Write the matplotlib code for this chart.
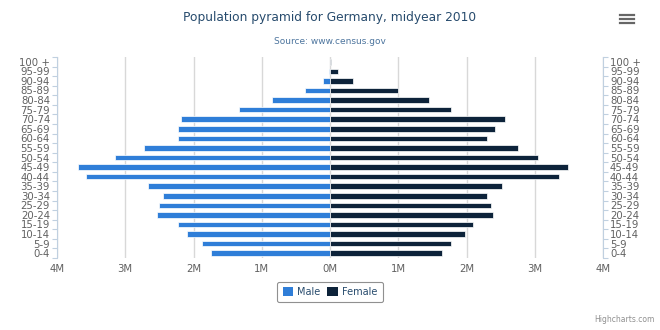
"""Population pyramid for Germany, midyear 2010 (Highcharts look-alike)."""

import matplotlib
matplotlib.use("Agg")
import matplotlib.pyplot as plt
from matplotlib.lines import Line2D
from matplotlib.patches import Patch
from matplotlib.ticker import FixedLocator, FuncFormatter

# age groups, bottom to top
categories = ['0-4', '5-9', '10-14', '15-19', '20-24', '25-29', '30-34',
              '35-39', '40-44', '45-49', '50-54', '55-59', '60-64', '65-69',
              '70-74', '75-79', '80-84', '85-89', '90-94', '95-99', '100 +']

# population in millions
male = [1.74, 1.88, 2.09, 2.23, 2.54, 2.51, 2.45, 2.66, 3.58, 3.69, 3.15,
        2.73, 2.23, 2.23, 2.18, 1.34, 0.85, 0.36, 0.10, 0.02, 0.004]
female = [1.64, 1.78, 1.98, 2.10, 2.39, 2.36, 2.30, 2.52, 3.36, 3.49, 3.05,
          2.75, 2.30, 2.42, 2.56, 1.78, 1.45, 1.00, 0.33, 0.115, 0.015]

x_ticks = [-4, -3, -2, -1, 0, 1, 2, 3, 4]

MALE_COLOR = '#2f7ed8'
FEMALE_COLOR = '#0d233a'
AXIS_COLOR = '#c0d0e0'
LABEL_COLOR = '#606060'


def main() -> None:
    plt.rcParams['font.family'] = ['DejaVu Sans']
    fig = plt.figure(figsize=(6.6, 3.3), dpi=100)
    ax = fig.add_axes([57 / 660, 1 - 258 / 330, 546 / 660, 201 / 330])

    y = list(range(len(categories)))
    ax.barh(y, [-v for v in male], height=0.58, color=MALE_COLOR,
            edgecolor='white', linewidth=0.5, zorder=3)
    ax.barh(y, female, height=0.58, color=FEMALE_COLOR,
            edgecolor='white', linewidth=0.5, zorder=3)

    ax.set_xlim(-4, 4)
    ax.set_ylim(-0.5, len(categories) - 0.5)

    # x axis: millions, absolute values
    ax.xaxis.set_major_locator(FixedLocator(x_ticks))
    ax.xaxis.set_major_formatter(FuncFormatter(lambda v, p: f'{abs(int(round(v)))}M'))
    ax.tick_params(axis='x', length=0, pad=4, labelsize=7.3, labelcolor=LABEL_COLOR)
    ax.grid(axis='x', color='#d8d8d8', linewidth=1, zorder=0)

    # y axis: categories with ticks between them
    ax.set_yticks(y)
    ax.set_yticklabels(categories)
    ax.yaxis.set_minor_locator(FixedLocator([i - 0.5 for i in range(len(categories) + 1)]))
    ax.tick_params(axis='y', which='major', length=0, pad=5, labelsize=7.3,
                   labelcolor=LABEL_COLOR)
    ax.tick_params(axis='y', which='minor', length=3.5, color=AXIS_COLOR, width=0.8)

    ax2 = ax.twinx()
    ax2.set_ylim(ax.get_ylim())
    ax2.set_yticks(y)
    ax2.set_yticklabels(categories)
    ax2.yaxis.set_minor_locator(FixedLocator([i - 0.5 for i in range(len(categories) + 1)]))
    ax2.tick_params(axis='y', which='major', length=0, pad=5, labelsize=7.3,
                    labelcolor=LABEL_COLOR)
    ax2.tick_params(axis='y', which='minor', length=3.5, color=AXIS_COLOR, width=0.8)

    for a in (ax, ax2):
        for side in ('top', 'bottom'):
            a.spines[side].set_visible(False)
        a.spines['left'].set_color(AXIS_COLOR)
        a.spines['right'].set_color(AXIS_COLOR)
    ax.spines['right'].set_visible(False)
    ax2.spines['left'].set_visible(False)

    fig.text(0.5, 1 - 18 / 330, 'Population pyramid for Germany, midyear 2010',
             ha='center', va='center', fontsize=8.8, color='#274b6d')
    fig.text(0.5, 1 - 41 / 330, 'Source: www.census.gov',
             ha='center', va='center', fontsize=6.5, color='#4d759e')

    handles = [Patch(facecolor=MALE_COLOR, label='Male'),
               Patch(facecolor=FEMALE_COLOR, label='Female')]
    leg = fig.legend(handles=handles, loc='center', ncol=2,
                     bbox_to_anchor=(0.5, 1 - 292 / 330), frameon=True,
                     fancybox=True, edgecolor='#909090', framealpha=1,
                     fontsize=7, handlelength=1.1, handleheight=1.1,
                     handletextpad=0.4, columnspacing=0.7, borderpad=0.55)
    for t in leg.get_texts():
        t.set_color('#274b6d')
    leg.get_frame().set_linewidth(0.8)

    fig.text(655 / 660, 1 - 320 / 330, 'Highcharts.com', ha='right', va='center',
             fontsize=5.5, color='#909090')

    # export menu icon
    for yy in (15, 19, 23):
        fig.add_artist(Line2D([620 / 660, 634 / 660], [1 - yy / 330] * 2,
                              color='#666666', linewidth=1.6))

    fig.savefig('out.png', dpi=100)


if __name__ == '__main__':
    main()
